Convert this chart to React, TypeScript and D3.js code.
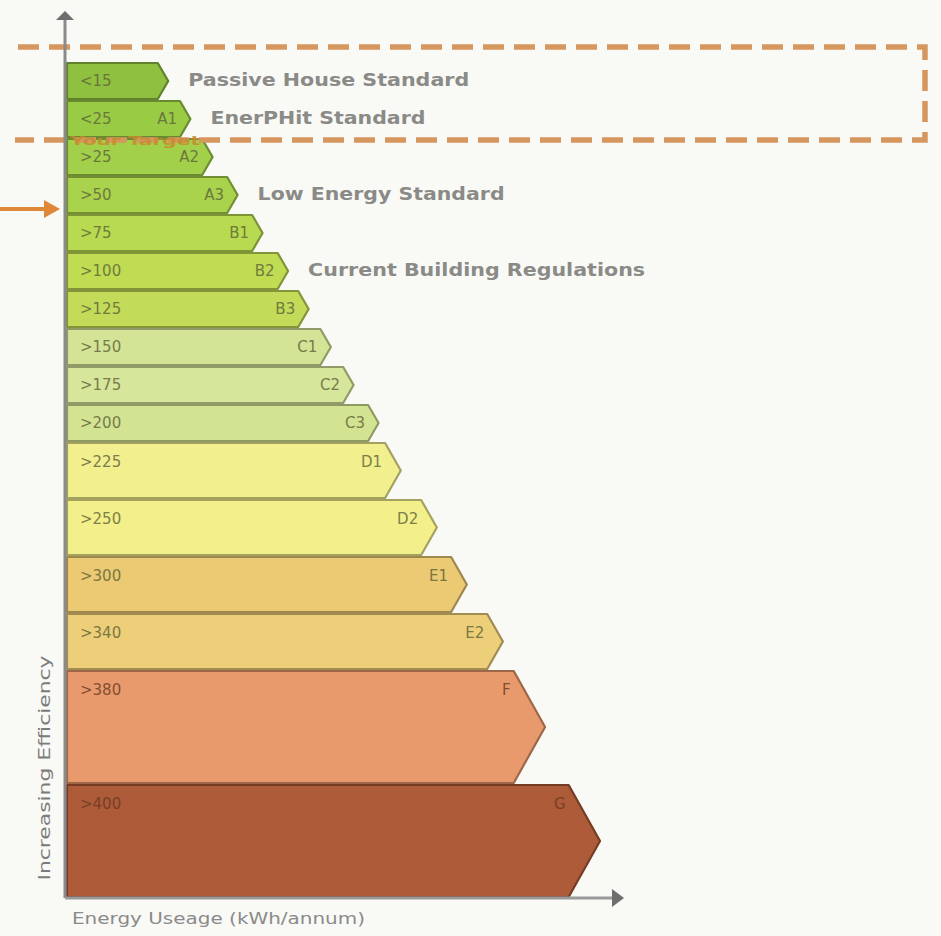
import React from 'react';
import * as d3 from 'd3';

const thresholds = ['<15', '<25', '>25', '>50', '>75', '>100', '>125', '>150', '>175', '>200', '>225', '>250', '>300', '>340', '>380', '>400'];
const grades = ['', 'A1', 'A2', 'A3', 'B1', 'B2', 'B3', 'C1', 'C2', 'C3', 'D1', 'D2', 'E1', 'E2', 'F', 'G'];
// relative reach of each arrow (0-100 of the energy axis)
const reach = [18.6, 22.6, 26.6, 31.1, 35.6, 40.2, 43.9, 47.9, 52.0, 56.5, 60.5, 67.0, 72.4, 78.9, 86.5, 96.4];
// relative thickness of each band
const rowSpan = [1, 1, 1, 1, 1, 1, 1, 1, 1, 1, 1.5, 1.5, 1.5, 1.5, 3, 3];
const fills = ['#8fc040', '#9acb45', '#a2d04a', '#aad34d', '#b8da50', '#bfdc53', '#c2db58', '#d3e497', '#d6e69b', '#d2e491', '#f1ef8e', '#f3f08b', '#ebca73', '#eecf79', '#e99a6c', '#ad5b38'];
const standardRows = [0, 1, 3, 5];
const standardNames = ['Passive House Standard', 'EnerPHit Standard', 'Low Energy Standard', 'Current Building Regulations'];
const standardWidths = [281, 215, 247, 337];
const targetLabel = 'Your Target';
const xAxisTitle = 'Energy Useage (kWh/annum)';
const yAxisTitle = 'Increasing Efficiency';

export default function App() {
  const W = 941, H = 936;
  const x0 = 65, xEnd = 620, yTop = 62, yBot = 898;
  const x = d3.scaleLinear().domain([0, 100]).range([x0, xEnd]);
  const cum = d3.cumsum(rowSpan);
  const total = cum[cum.length - 1];
  const y = d3.scaleLinear().domain([0, total]).range([yTop, yBot]);
  const font = '"DejaVu Sans", "Liberation Sans", Arial, sans-serif';

  const rows = thresholds.map((t, i) => {
    const top = y(i === 0 ? 0 : cum[i - 1]);
    const bot = y(cum[i]);
    const h = bot - top;
    const tip = x(reach[i]);
    const depth = (h / 2) * 0.55;
    const body = tip - depth;
    return { t, g: grades[i], top, bot, h, tip, body, fill: fills[i] };
  });

  return (
    <svg width={W} height={H} style={{ position: 'absolute', left: 0, top: 0 }} fontFamily={font}>
      <rect x={0} y={0} width={W} height={H} fill="#f9f9f6" />
      {rows.map((r, i) => {
        const path = d3.path();
        path.moveTo(x0 + 2, r.top + 1);
        path.lineTo(r.body, r.top + 1);
        path.lineTo(r.tip, (r.top + r.bot) / 2);
        path.lineTo(r.body, r.bot - 1);
        path.lineTo(x0 + 2, r.bot - 1);
        path.closePath();
        const stroke = d3.color(r.fill)!.darker(1.1).formatHex();
        const ty = r.top + Math.min(r.h / 2, 20) + 5;
        const textCol = i >= 14 ? '#6a3a22' : '#5e6338';
        return (
          <g key={i}>
            <path d={path.toString()} fill={r.fill} stroke={stroke} strokeWidth={2.2} strokeLinejoin="round" />
            <text x={80} y={ty} fontSize={15} fill={textCol} opacity={0.8}>{r.t}</text>
            <text x={r.body - 3} y={ty} fontSize={15} fill={textCol} textAnchor="end" opacity={0.8}>{r.g}</text>
          </g>
        );
      })}
      {standardRows.map((ri, k) => {
        const r = rows[ri];
        return (
          <text key={k} x={r.tip + 20} y={(r.top + r.bot) / 2 + 5} fontSize={17} fontWeight="bold" fill="#8a8a86"
            textLength={standardWidths[k]} lengthAdjust="spacingAndGlyphs">
            {standardNames[k]}
          </text>
        );
      })}
      {/* dashed target box */}
      <path d="M18,47 H925 V140 H15" fill="none" stroke="#d6975e" strokeWidth={5.5} strokeDasharray="21 10" />
      <text x={70} y={145} fontSize={13} fontWeight="bold" fill="#c98a2e" opacity={0.85}
        textLength={130} lengthAdjust="spacingAndGlyphs">{targetLabel}</text>
      {/* orange pointer */}
      <line x1={0} y1={209} x2={48} y2={209} stroke="#e0883a" strokeWidth={4} />
      <path d="M44,200 L60,209 L44,218 Z" fill="#e0883a" />
      {/* axes */}
      <line x1={x0} y1={20} x2={x0} y2={yBot} stroke="#8a8a8a" strokeWidth={3} />
      <path d={`M${x0 - 9},20 L${x0},11 L${x0 + 9},20 Z`} fill="#6e6e6e" />
      <line x1={x0} y1={yBot} x2={612} y2={yBot} stroke="#9a9a9a" strokeWidth={3} />
      <path d={`M612,889 L624,${yBot} L612,907 Z`} fill="#6e6e6e" />
      <text transform={`translate(50,${768}) rotate(-90)`} textAnchor="middle" fontSize={15} fill="#7c7c7c"
        textLength={225} lengthAdjust="spacingAndGlyphs">{yAxisTitle}</text>
      <text x={72} y={924} fontSize={16} fill="#8a8a8a" textLength={293} lengthAdjust="spacingAndGlyphs">{xAxisTitle}</text>
    </svg>
  );
}
